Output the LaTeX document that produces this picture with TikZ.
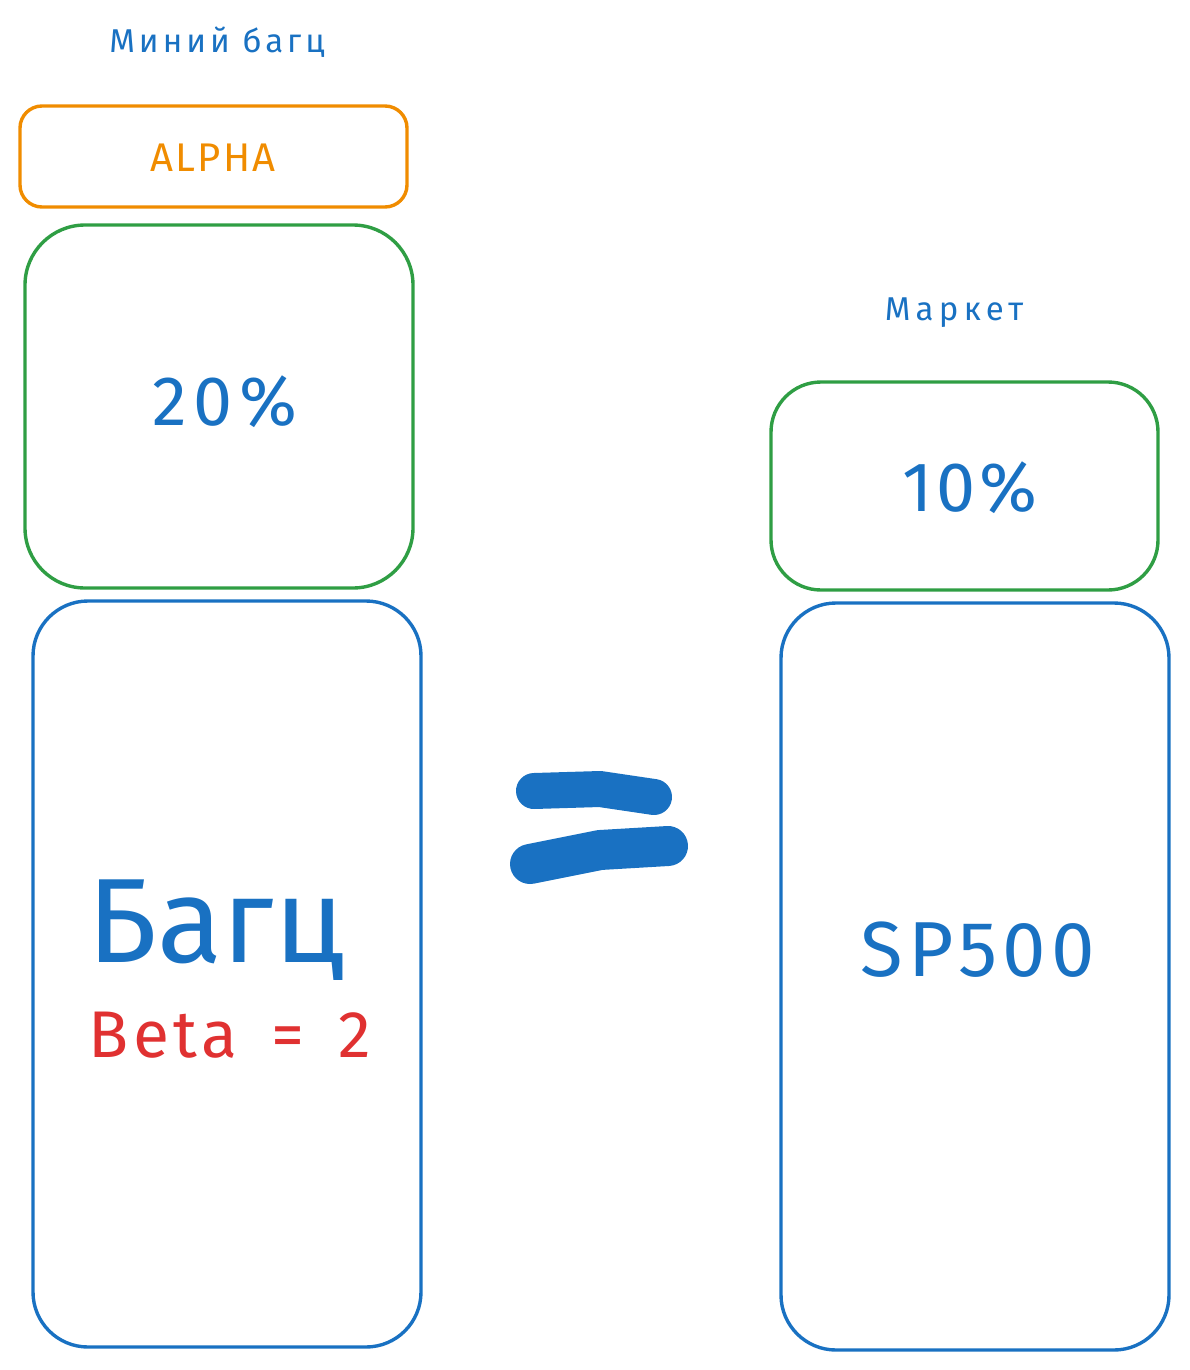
\documentclass[tikz,border=0pt]{standalone}
\usepackage{fontspec}
\setmainfont{Fira Sans}
\definecolor{exblue}{HTML}{1971C2}
\definecolor{exorange}{HTML}{F08C00}
\definecolor{exgreen}{HTML}{2F9E44}
\definecolor{exred}{HTML}{E03131}
\begin{document}
\begin{tikzpicture}[x=1pt,y=-1pt,
  box/.style={draw, line width=3.4pt, rounded corners=#1},
  lbl/.style={inner sep=0pt, anchor=center}]
\useasboundingbox (0,0) rectangle (1189,1370);
% left column
\node[lbl, text=exblue, font=\fontsize{33}{36}\selectfont\addfontfeature{LetterSpace=12}] (t1) at (217,42) {Миний багц};
\draw[box=22pt, exorange] (20,106) rectangle (407,207);
\node[lbl, text=exorange, font=\fontsize{40}{42}\selectfont\addfontfeature{LetterSpace=6}] (alpha) at (213,158) {ALPHA};
\draw[box=60pt, exgreen] (25,225) rectangle (413,588);
\node[lbl, text=exblue, font=\fontsize{70}{72}\selectfont\addfontfeature{LetterSpace=9}] (p20) at (225,402) {20\%};
\draw[box=55pt, exblue] (33,601) rectangle (421,1347);
\node[lbl, text=exblue, font=\fontsize{120}{120}\selectfont] (bagts) at (216,930) {Багц};
\node[lbl, text=exred, font=\fontsize{66}{68}\selectfont\addfontfeature{LetterSpace=7}] (beta) at (230,1035) {Beta\hspace{34pt}=\hspace{34pt}2};
% right column
\node[lbl, text=exblue, font=\fontsize{33}{36}\selectfont\addfontfeature{LetterSpace=16}] (t2) at (954,313) {Маркет};
\draw[box=50pt, exgreen] (771,382) rectangle (1158,590);
\node[lbl, text=exblue, font=\fontsize{70}{72}\selectfont\addfontfeature{LetterSpace=6}] (p10) at (970,488) {10\%};
\draw[box=55pt, exblue] (781,603) rectangle (1169,1350);
\node[lbl, text=exblue, font=\fontsize{78}{80}\selectfont\addfontfeature{LetterSpace=7}] (sp) at (978,950) {SP500};
% equals sign
\draw[exblue, line width=36pt, line cap=round, line join=round] (534,791) -- (600,789) -- (654,797);
\draw[exblue, line width=40pt, line cap=round, line join=round] (530,864) -- (600,850) -- (668,846);
\end{tikzpicture}
\end{document}
